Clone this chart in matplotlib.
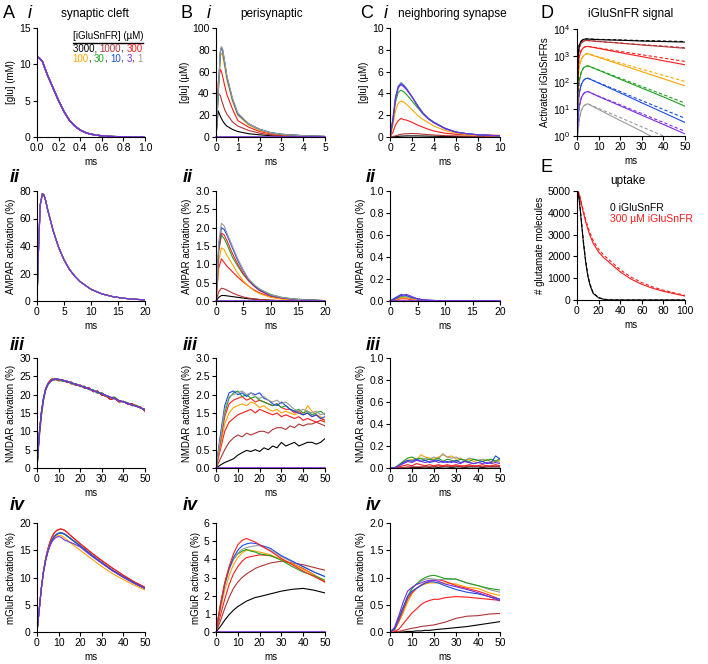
import numpy as np
import matplotlib.pyplot as plt

plt.rcParams['font.family'] = ['Liberation Sans', 'DejaVu Sans']
plt.rcParams['mathtext.fontset'] = 'custom'
plt.rcParams['mathtext.rm'] = 'Liberation Sans'
plt.rcParams['mathtext.it'] = 'Liberation Sans:italic'

# colours per iGluSnFR concentration (uM)
c3000 = 'black'
c1000 = '#b03434'
c300 = '#ff1a1a'
c100 = '#ffa500'
c30 = '#1fa01f'
c10 = '#1a4de6'
c3 = '#7a2ee0'
c1 = '#9a9a9a'

# ---- A: synaptic cleft ----
t_ai = [0, 0, 0.02, 0.05, 0.1, 0.15, 0.2, 0.25, 0.3, 0.35, 0.4, 0.45, 0.5, 0.6, 0.7, 0.8, 1.0]
glu_ai = [0, 11, 10.9, 10.4, 8.4, 6.7, 5.0, 3.5, 2.3, 1.5, 0.95, 0.6, 0.38, 0.15, 0.06, 0.02, 0.0]

t_aii = [0, 0.3, 0.6, 1.0, 1.3, 1.6, 2, 3, 4, 5, 6, 7, 8, 10, 12, 14, 16, 18, 20]
ampa_aii = [0, 40, 70, 78, 77, 73, 66, 51, 39, 30, 23, 18, 14, 8.5, 5.2, 3.2, 2.0, 1.3, 0.8]

t_aiii = [0, 1, 2, 3, 4, 5, 6, 7, 8, 9, 10, 12, 14, 16, 18, 20, 22, 24, 26, 28, 30,
          32, 34, 36, 38, 40, 42, 44, 46, 48, 50]
nmda_aiii_1 = [0, 9, 15, 19, 21.5, 22.8, 23.5, 24.0, 24.2, 24.3, 24.2, 23.9, 23.6, 23.2, 22.8, 22.4,
               22.0, 21.6, 21.1, 20.7, 20.2, 19.8, 19.3, 18.9, 18.4, 18.0, 17.6, 17.2, 16.8, 16.4, 15.9]
nmda_aiii_2 = [0, 9, 15, 19, 21.6, 23.0, 23.8, 24.3, 24.0, 24.4, 23.8, 24.0, 23.3, 23.4, 22.5, 22.6,
               21.8, 21.9, 20.8, 21.0, 19.9, 19.6, 18.7, 19.0, 18.0, 18.2, 17.4, 17.5, 16.9, 16.6, 15.5]
nmda_aiii_3 = [0, 8, 14, 18.5, 21.2, 22.6, 23.4, 23.9, 24.3, 24.0, 24.1, 23.6, 23.7, 22.9, 23.0, 22.2,
               22.3, 21.4, 21.3, 20.4, 20.5, 19.7, 19.2, 19.3, 18.3, 18.1, 17.8, 17.0, 17.1, 16.3, 16.1]

t_aiv = [0, 1, 2, 3, 4, 5, 6, 7, 8, 9, 10, 11, 12, 13, 14, 15, 17, 20, 25, 30, 35, 40, 45, 50]
mglu_aiv_mid = [0, 4, 8, 11, 13.2, 14.8, 16.0, 16.9, 17.5, 17.9, 18.1, 18.2, 18.1, 17.9, 17.6, 17.3,
                16.7, 15.8, 14.2, 12.7, 11.3, 10.1, 9.0, 8.0]
mglu_aiv_hi = [0, 4, 8, 11.2, 13.5, 15.2, 16.5, 17.5, 18.2, 18.6, 18.8, 18.9, 18.8, 18.6, 18.3, 17.9,
               17.2, 16.2, 14.6, 13.1, 11.7, 10.4, 9.2, 8.2]
mglu_aiv_lo = [0, 4, 8, 11, 13.2, 14.8, 16.0, 16.8, 17.3, 17.6, 17.7, 17.7, 17.5, 17.2, 16.9, 16.5,
               15.9, 15.0, 13.5, 12.0, 10.7, 9.6, 8.6, 7.7]
mglu_aiv_pu = [0, 4, 8, 11, 13.1, 14.6, 15.8, 16.6, 17.1, 17.4, 17.5, 17.4, 17.1, 16.8, 16.7, 16.5,
               16.2, 15.6, 14.0, 12.6, 11.2, 10.0, 8.9, 8.0]

# ---- B: perisynaptic ----
t_bi = [0, 0.1, 0.2, 0.25, 0.3, 0.4, 0.5, 0.75, 1.0, 1.5, 2, 2.5, 3, 4, 5]
glu_bi = {
    c3000: [0, 24, 19, 17, 15, 12, 10, 7, 5, 3, 2, 1.2, 0.8, 0.4, 0.2],
    c1000: [0, 40, 38, 34, 31, 25, 21, 14, 10, 6, 3.5, 2, 1.3, 0.6, 0.3],
    c300: [0, 50, 62, 60, 56, 47, 39, 26, 15, 9, 5, 3, 2, 1, 0.5],
    c100: [0, 38, 74, 77, 75, 64, 52, 33, 20, 11, 6, 3.5, 2.2, 1.0, 0.5],
    c30: [0, 40, 78, 82, 80, 68, 55, 35, 21, 12, 7, 4, 2.5, 1.2, 0.5],
    c10: [0, 40, 78, 82, 80, 68, 55, 35, 21, 12, 7, 4, 2.5, 1.2, 0.5],
    c1: [0, 41, 79, 83, 81, 69, 56, 36, 22, 12, 7, 4, 2.5, 1.2, 0.5],
}

t_bii = [0, 0.5, 1, 1.5, 2, 3, 4, 5, 6, 7, 8, 10, 12, 14, 16, 20]
ampa_bii = {
    c3000: [0, 0.1, 0.15, 0.15, 0.14, 0.12, 0.1, 0.08, 0.06, 0.05, 0.04, 0.02, 0.01, 0.01, 0, 0],
    c1000: [0, 0.25, 0.35, 0.33, 0.3, 0.22, 0.16, 0.11, 0.08, 0.06, 0.04, 0.02, 0.01, 0.01, 0, 0],
    c300: [0, 0.9, 1.15, 1.05, 0.95, 0.8, 0.65, 0.52, 0.4, 0.3, 0.22, 0.12, 0.08, 0.05, 0.03, 0.01],
    c100: [0, 1.1, 1.45, 1.4, 1.25, 1.0, 0.75, 0.55, 0.4, 0.28, 0.2, 0.1, 0.05, 0.03, 0.02, 0.01],
    c30: [0, 1.35, 1.8, 1.7, 1.55, 1.2, 0.95, 0.72, 0.55, 0.42, 0.32, 0.18, 0.1, 0.06, 0.04, 0.01],
    '#ff2020': [0, 1.4, 1.85, 1.8, 1.65, 1.3, 1.0, 0.75, 0.55, 0.4, 0.28, 0.14, 0.08, 0.05, 0.02, 0.01],
    c10: [0, 1.5, 2.0, 1.95, 1.8, 1.45, 1.1, 0.82, 0.58, 0.42, 0.3, 0.15, 0.09, 0.05, 0.03, 0.01],
    c1: [0, 1.6, 2.12, 2.05, 1.85, 1.5, 1.15, 0.85, 0.6, 0.45, 0.33, 0.17, 0.1, 0.06, 0.03, 0.01],
}

t50 = [0, 2, 4, 6, 8, 10, 12, 14, 16, 18, 20, 22, 24, 26, 28, 30, 32, 34, 36, 38, 40, 42, 44, 46, 48, 50]
nmda_biii = {
    c3000: [0, 0.08, 0.15, 0.2, 0.25, 0.35, 0.42, 0.48, 0.45, 0.5, 0.45, 0.55, 0.5, 0.6, 0.55, 0.7,
            0.6, 0.65, 0.7, 0.6, 0.65, 0.7, 0.7, 0.65, 0.7, 0.8],
    c1000: [0, 0.25, 0.5, 0.7, 0.82, 0.9, 0.85, 0.95, 0.9, 0.95, 1.0, 1.0, 0.95, 1.05, 1.1, 1.1,
            1.05, 1.15, 1.1, 1.2, 1.15, 1.2, 1.2, 1.25, 1.2, 1.15],
    c300: [0, 0.5, 1.0, 1.25, 1.35, 1.45, 1.5, 1.55, 1.6, 1.5, 1.6, 1.55, 1.5, 1.45, 1.5, 1.4,
           1.45, 1.4, 1.35, 1.4, 1.3, 1.35, 1.3, 1.25, 1.3, 1.25],
    c100: [0, 0.6, 1.2, 1.5, 1.65, 1.7, 1.75, 1.7, 1.8, 1.75, 1.65, 1.7, 1.6, 1.55, 1.6, 1.5,
           1.55, 1.5, 1.45, 1.5, 1.45, 1.7, 1.55, 1.45, 1.4, 1.3],
    '#ff2020': [0, 0.7, 1.4, 1.75, 1.85, 1.9, 1.95, 1.85, 1.9, 1.8, 1.85, 1.8, 1.75, 1.7, 1.75, 1.65,
                1.6, 1.6, 1.5, 1.55, 1.45, 1.5, 1.4, 1.45, 1.35, 1.3],
    c30: [0, 0.8, 1.5, 1.9, 2.05, 2.1, 1.95, 2.0, 1.9, 1.95, 1.85, 1.8, 1.75, 1.7, 1.75, 1.65,
          1.7, 1.6, 1.55, 1.6, 1.5, 1.55, 1.45, 1.5, 1.55, 1.45],
    c10: [0, 0.9, 1.7, 2.05, 2.1, 2.0, 2.05, 1.95, 2.05, 2.0, 2.05, 1.9, 1.85, 1.75, 1.7, 1.8,
          1.7, 1.6, 1.55, 1.5, 1.45, 1.5, 1.4, 1.45, 1.35, 1.4],
    c1: [0, 0.8, 1.6, 1.95, 2.0, 2.05, 2.1, 2.0, 2.05, 1.95, 1.9, 1.95, 1.85, 1.8, 1.85, 1.75,
         1.8, 1.7, 1.6, 1.55, 1.6, 1.55, 1.5, 1.55, 1.45, 1.5],
}

t_biv = [0, 2, 4, 6, 8, 10, 12, 14, 16, 18, 20, 25, 30, 35, 40, 45, 50]
mglu_biv = {
    c3000: [0, 0.3, 0.65, 0.95, 1.2, 1.4, 1.55, 1.7, 1.8, 1.9, 1.95, 2.1, 2.25, 2.35, 2.4, 2.3, 2.15],
    c1000: [0, 0.6, 1.3, 1.9, 2.4, 2.75, 3.0, 3.2, 3.35, 3.5, 3.6, 3.8, 3.9, 3.8, 3.7, 3.55, 3.4],
    c300: [0, 0.9, 1.8, 2.6, 3.2, 3.6, 3.9, 4.1, 4.15, 4.2, 4.25, 4.2, 4.0, 3.75, 3.5, 3.15, 2.75],
    c100: [0, 1.2, 2.3, 3.1, 3.7, 4.1, 4.35, 4.5, 4.5, 4.45, 4.4, 4.25, 4.0, 3.75, 3.45, 3.15, 2.8],
    c30: [0, 1.5, 2.7, 3.5, 4.0, 4.3, 4.45, 4.55, 4.45, 4.4, 4.3, 4.2, 3.95, 3.6, 3.3, 3.1, 2.85],
    c1: [0, 1.4, 2.6, 3.4, 4.0, 4.35, 4.55, 4.65, 4.7, 4.75, 4.75, 4.5, 4.15, 3.85, 3.6, 3.3, 3.05],
    c10: [0, 1.4, 2.6, 3.5, 4.1, 4.5, 4.75, 4.85, 4.9, 4.88, 4.8, 4.6, 4.2, 3.9, 3.6, 3.3, 3.05],
    '#ff2020': [0, 1.5, 2.7, 3.6, 4.3, 4.8, 5.05, 5.15, 5.05, 4.95, 4.8, 4.45, 4.05, 3.7, 3.35, 3.05, 2.75],
}

# ---- C: neighboring synapse ----
t_ci = [0, 0.25, 0.5, 0.75, 1.0, 1.25, 1.5, 2, 2.5, 3, 3.5, 4, 5, 6, 7, 8, 10]
glu_ci = {
    c3000: [0, 0.02, 0.04, 0.06, 0.08, 0.09, 0.1, 0.1, 0.1, 0.09, 0.08, 0.07, 0.05, 0.04, 0.03, 0.02, 0.01],
    c1000: [0, 0.05, 0.1, 0.18, 0.25, 0.28, 0.3, 0.32, 0.3, 0.26, 0.22, 0.18, 0.12, 0.1, 0.08, 0.06, 0.03],
    c300: [0, 0.4, 1.1, 1.5, 1.7, 1.6, 1.55, 1.35, 1.1, 0.9, 0.7, 0.55, 0.35, 0.25, 0.2, 0.2, 0.15],
    c100: [0, 1.0, 2.4, 3.1, 3.3, 3.2, 3.0, 2.5, 2.0, 1.6, 1.3, 1.0, 0.6, 0.35, 0.2, 0.15, 0.1],
    c30: [0, 1.3, 3.2, 4.1, 4.3, 4.15, 3.9, 3.3, 2.7, 2.1, 1.65, 1.3, 0.8, 0.45, 0.3, 0.2, 0.1],
    c1: [0, 1.6, 3.7, 4.7, 5.0, 4.8, 4.5, 3.7, 2.9, 2.2, 1.7, 1.35, 0.8, 0.45, 0.3, 0.2, 0.1],
    c10: [0, 1.5, 3.6, 4.6, 4.9, 4.7, 4.4, 3.7, 2.9, 2.2, 1.7, 1.35, 0.8, 0.45, 0.3, 0.2, 0.1],
    c3: [0, 1.5, 3.5, 4.5, 4.8, 4.6, 4.35, 3.65, 2.85, 2.15, 1.65, 1.3, 0.75, 0.45, 0.3, 0.2, 0.1],
}

t_cii = [0, 1, 2, 3, 4, 5, 6, 8, 10, 15, 20]
ampa_cii = {
    c300: [0, 0.01, 0.02, 0.02, 0.01, 0.01, 0, 0, 0, 0, 0],
    c100: [0, 0.01, 0.03, 0.03, 0.02, 0.01, 0, 0, 0, 0, 0],
    c30: [0, 0.02, 0.04, 0.04, 0.03, 0.02, 0.01, 0, 0, 0, 0],
    c1: [0, 0.03, 0.05, 0.04, 0.03, 0.015, 0.01, 0, 0, 0, 0],
    c10: [0, 0.03, 0.06, 0.05, 0.03, 0.02, 0.01, 0.005, 0, 0, 0],
    c3: [0, 0.02, 0.05, 0.06, 0.04, 0.02, 0.01, 0.005, 0, 0, 0],
}

nmda_ciii = {
    c3000: [0, 0, 0, 0, 0, 0.005, 0.005, 0.005, 0.01, 0.005, 0.01, 0.005, 0.01, 0.01, 0.005, 0.01,
            0.01, 0.005, 0.01, 0.01, 0.01, 0.005, 0.01, 0.01, 0.01, 0.01],
    c1000: [0, 0, 0, 0.005, 0.01, 0.01, 0.01, 0.01, 0.01, 0.01, 0.01, 0.02, 0.01, 0.02, 0.01, 0.02,
            0.01, 0.01, 0.02, 0.01, 0.02, 0.01, 0.02, 0.01, 0.02, 0.01],
    c300: [0, 0, 0.01, 0.02, 0.03, 0.02, 0.04, 0.03, 0.02, 0.03, 0.02, 0.03, 0.02, 0.03, 0.02, 0.03,
           0.02, 0.02, 0.03, 0.02, 0.02, 0.03, 0.02, 0.02, 0.03, 0.02],
    c100: [0, 0, 0.02, 0.05, 0.07, 0.08, 0.07, 0.12, 0.1, 0.09, 0.08, 0.1, 0.12, 0.1, 0.11, 0.08,
           0.09, 0.07, 0.08, 0.06, 0.07, 0.06, 0.08, 0.05, 0.06, 0.07],
    c1: [0, 0, 0.02, 0.04, 0.06, 0.07, 0.08, 0.07, 0.09, 0.08, 0.1, 0.08, 0.13, 0.1, 0.09, 0.1,
         0.08, 0.07, 0.09, 0.08, 0.07, 0.08, 0.07, 0.06, 0.07, 0.05],
    c30: [0, 0, 0.03, 0.06, 0.09, 0.1, 0.08, 0.09, 0.07, 0.08, 0.07, 0.09, 0.06, 0.08, 0.07, 0.06,
          0.08, 0.07, 0.06, 0.08, 0.07, 0.06, 0.07, 0.08, 0.06, 0.09],
    c10: [0, 0, 0.02, 0.05, 0.07, 0.06, 0.08, 0.06, 0.07, 0.05, 0.06, 0.07, 0.05, 0.06, 0.05, 0.07,
          0.05, 0.06, 0.05, 0.04, 0.05, 0.06, 0.04, 0.05, 0.11, 0.08],
    c3: [0, 0, 0.02, 0.04, 0.06, 0.05, 0.07, 0.06, 0.05, 0.06, 0.07, 0.05, 0.06, 0.05, 0.06, 0.05,
         0.04, 0.06, 0.05, 0.04, 0.05, 0.04, 0.05, 0.04, 0.05, 0.04],
}

t_civ = [0, 2, 4, 6, 8, 10, 12, 14, 16, 18, 20, 22, 25, 30, 35, 40, 45, 50]
mglu_civ = {
    c3000: [0, 0, 0, 0, 0.01, 0.01, 0.02, 0.02, 0.03, 0.03, 0.04, 0.05, 0.06, 0.08, 0.1, 0.13, 0.16, 0.19],
    c1000: [0, 0, 0.01, 0.03, 0.05, 0.07, 0.08, 0.1, 0.11, 0.12, 0.13, 0.15, 0.18, 0.25, 0.29, 0.3, 0.33, 0.34],
    c300: [0, 0.01, 0.05, 0.15, 0.25, 0.35, 0.42, 0.5, 0.55, 0.58, 0.6, 0.6, 0.63, 0.65, 0.64, 0.62, 0.6, 0.58],
    c100: [0, 0.03, 0.18, 0.35, 0.55, 0.7, 0.8, 0.85, 0.88, 0.9, 0.9, 0.9, 0.9, 0.88, 0.82, 0.8, 0.72, 0.67],
    '#ff2020': [0, 0.04, 0.2, 0.4, 0.6, 0.72, 0.8, 0.86, 0.9, 0.93, 0.95, 0.96, 0.93, 0.85, 0.8, 0.75, 0.68, 0.6],
    c1: [0, 0.05, 0.25, 0.45, 0.65, 0.8, 0.88, 0.93, 0.97, 0.98, 0.97, 0.96, 0.97, 0.97, 0.9, 0.85, 0.78, 0.73],
    c30: [0, 0.05, 0.25, 0.45, 0.65, 0.8, 0.88, 0.95, 1.0, 1.03, 1.04, 1.02, 0.98, 0.97, 0.9, 0.85, 0.8, 0.77],
    c10: [0, 0.05, 0.25, 0.45, 0.65, 0.75, 0.8, 0.85, 0.9, 0.92, 0.92, 0.9, 0.85, 0.78, 0.73, 0.7, 0.65, 0.6],
    c3: [0, 0.08, 0.3, 0.55, 0.75, 0.82, 0.87, 0.9, 0.93, 0.95, 0.95, 0.93, 0.88, 0.83, 0.78, 0.72, 0.65, 0.57],
}

# ---- D: iGluSnFR signal (solid, dashed) ----
t_d = [0, 0.5, 1, 2, 3, 4, 5, 10, 20, 30, 40, 50]
sig_d = {
    c3000: ([1, 900, 2500, 3600, 4100, 4200, 4200, 4000, 3800, 3550, 3400, 3250],
            [1, 900, 2500, 3600, 4100, 4250, 4250, 4100, 3900, 3700, 3550, 3400]),
    c1000: ([1, 700, 2000, 3000, 3500, 3700, 3700, 3400, 2950, 2530, 2200, 1900],
            [1, 700, 2000, 3000, 3500, 3700, 3700, 3450, 3000, 2600, 2300, 2000]),
    c300: ([1, 300, 900, 1600, 2000, 2200, 2240, 1880, 1310, 930, 650, 460],
           [1, 300, 900, 1600, 2000, 2200, 2240, 1950, 1450, 1090, 820, 615]),
    c100: ([1, 120, 380, 750, 1000, 1150, 1190, 870, 470, 255, 138, 75],
           [1, 120, 380, 750, 1000, 1150, 1190, 910, 540, 315, 185, 110]),
    c30: ([1, 35, 110, 250, 350, 400, 420, 290, 133, 62, 29, 13],
          [1, 35, 110, 250, 350, 400, 420, 295, 145, 71, 35, 17]),
    c10: ([1, 12, 38, 85, 120, 140, 145, 95, 41, 17.4, 7.5, 3.2],
          [1, 12, 38, 85, 120, 140, 145, 98, 46, 21, 9.8, 4.6]),
    c3: ([0.5, 4, 12, 27, 38, 44, 46, 30, 13.5, 6, 2.7, 1.2],
         [0.5, 4, 12, 27, 38, 44, 46, 31, 14.6, 6.9, 3.2, 1.5]),
    c1: ([0.5, 1.5, 4, 9, 13, 15, 16, 9.8, 3.8, 1.5, 0.55, 0.2],
         [0.5, 1.5, 4, 9, 13, 15, 16, 10.7, 4.9, 2.2, 1.0, 0.45]),
}

# ---- E: uptake ----
t_e = [0, 1, 2, 3, 4, 5, 6, 8, 10, 12, 15, 20, 25, 30, 40, 50, 60, 70, 80, 90, 100]
uptake_0 = [5000, 4900, 4600, 4130, 3600, 3100, 2600, 1750, 1100, 690, 300, 100, 30, 5, 0, 0, 0, 0, 0, 0, 0]
uptake_0_d = [5000, 4920, 4650, 4200, 3680, 3180, 2680, 1820, 1160, 730, 330, 110, 35, 8, 0, 0, 0, 0, 0, 0, 0]
uptake_300 = [5000, 4980, 4850, 4650, 4420, 4200, 3990, 3600, 3260, 2960, 2600, 2200, 1930, 1720, 1290,
              960, 720, 540, 400, 290, 180]
uptake_300_d = [5000, 4985, 4870, 4690, 4480, 4280, 4080, 3700, 3370, 3080, 2720, 2330, 2050, 1830, 1390,
                1050, 800, 600, 450, 330, 210]

W, H = 708, 664
fig = plt.figure(figsize=(W / 100, H / 100), dpi=100)
LW = 0.8


def make_ax(l, t, r, b, xlim, xticks, ylim, yticks, ylabel, log=False):
    ax = fig.add_axes([l / W, 1 - b / H, (r - l) / W, (b - t) / H])
    for s in ['top', 'right']:
        ax.spines[s].set_visible(False)
    for s in ['left', 'bottom']:
        ax.spines[s].set_linewidth(0.8)
    if log:
        ax.set_yscale('log')
        ax.minorticks_off()
    ax.set_xlim(xlim)
    ax.set_ylim(ylim)
    ax.set_xticks(xticks)
    ax.set_yticks(yticks)
    ax.tick_params(direction='out', length=3, width=0.8, labelsize=7.5, pad=1.5)
    ax.set_xlabel('ms', fontsize=7, labelpad=3)
    ax.set_ylabel(ylabel, fontsize=7, labelpad=2)
    return ax


def ftext(x, y, s, **kw):
    fig.text(x / W, 1 - y / H, s, **kw)


def draw(ax, t, series):
    for col, vals in series.items():
        ax.plot(t, vals, color=col, lw=LW)


rows = {'i': (28, 137), 'ii': (191, 301), 'iii': (358, 468), 'iv': (523, 632)}
order_all = [c3000, c1000, c300, c100, c30, c10, c1, c3]

# A i
ax = make_ax(37, rows['i'][0], 145, rows['i'][1], (0, 1), np.arange(0, 1.01, 0.2),
             (0, 15), [0, 5, 10, 15], '[glu] (mM)')
for c in order_all:
    ax.plot(t_ai, glu_ai, color=c, lw=1.0)
ax.set_xticklabels(['0.0', '0.2', '0.4', '0.6', '0.8', '1.0'])
ax.text(0.33, 0.975, '[iGluSnFR] (\u00b5M)', transform=ax.transAxes, fontsize=7, va='top')
ax.plot([0.33, 0.985], [0.865, 0.865], transform=ax.transAxes, color='black', lw=1.0, clip_on=False)
for y, pieces in [(0.855, [('3000, ', c3000), ('1000', c1000), (', ', 'black'), ('300', c300)]),
                  (0.765, [('100', c100), (', ', 'black'), ('30', c30), (', ', 'black'), ('10', c10),
                           (', ', 'black'), ('3', c3), (', ', 'black'), ('1', c1)])]:
    prev = ax.text(0.33, y, pieces[0][0], color=pieces[0][1], transform=ax.transAxes, fontsize=7, va='top')
    for s, c in pieces[1:]:
        prev = ax.annotate(s, xy=(1, 0), xycoords=prev, va='bottom', ha='left', color=c, fontsize=7)

# A ii
ax = make_ax(37, rows['ii'][0], 145, rows['ii'][1], (0, 20), [0, 5, 10, 15, 20], (0, 80),
             [0, 20, 40, 60, 80], 'AMPAR activation (%)')
for c in order_all:
    ax.plot(t_aii, ampa_aii, color=c, lw=LW)

# A iii
ax = make_ax(37, rows['iii'][0], 145, rows['iii'][1], (0, 50), np.arange(0, 51, 10), (0, 30),
             np.arange(0, 31, 5), 'NMDAR activation (%)')
for c, v in [(c1, nmda_aiii_1), (c3000, nmda_aiii_2), (c1000, nmda_aiii_3), (c300, nmda_aiii_2),
             (c100, nmda_aiii_1), (c30, nmda_aiii_3), (c10, nmda_aiii_1), (c3, nmda_aiii_1)]:
    ax.plot(t_aiii, v, color=c, lw=LW)

# A iv
ax = make_ax(37, rows['iv'][0], 145, rows['iv'][1], (0, 50), np.arange(0, 51, 10), (0, 20),
             np.arange(0, 21, 5), 'mGluR activation (%)')
for c, v in [(c3000, mglu_aiv_mid), (c1, mglu_aiv_mid), (c1000, mglu_aiv_hi), (c300, mglu_aiv_hi),
             (c30, mglu_aiv_mid), (c100, mglu_aiv_lo), (c10, mglu_aiv_mid), (c3, mglu_aiv_pu)]:
    ax.plot(t_aiv, v, color=c, lw=LW)

# B
ax = make_ax(216, rows['i'][0], 325, rows['i'][1], (0, 5), np.arange(0, 6), (0, 100),
             np.arange(0, 101, 20), '[glu] (\u00b5M)')
draw(ax, t_bi, glu_bi)
ax.plot([0, 5], [0, 0], color=c3, lw=1.2, clip_on=False)

ax = make_ax(216, rows['ii'][0], 325, rows['ii'][1], (0, 20), [0, 5, 10, 15, 20], (0, 3),
             np.arange(0, 3.01, 0.5), 'AMPAR activation (%)')
draw(ax, t_bii, ampa_bii)
ax.plot([0, 20], [0, 0], color=c3, lw=1.2, clip_on=False)

ax = make_ax(216, rows['iii'][0], 325, rows['iii'][1], (0, 50), np.arange(0, 51, 10), (0, 3),
             np.arange(0, 3.01, 0.5), 'NMDAR activation (%)')
draw(ax, t50, nmda_biii)
ax.plot([0, 50], [0, 0], color=c3, lw=1.2, clip_on=False)

ax = make_ax(216, rows['iv'][0], 325, rows['iv'][1], (0, 50), np.arange(0, 51, 10), (0, 6),
             np.arange(0, 7), 'mGluR activation (%)')
draw(ax, t_biv, mglu_biv)
ax.plot([0, 50], [0, 0], color=c3, lw=1.2, clip_on=False)

# C
ax = make_ax(390, rows['i'][0], 500, rows['i'][1], (0, 10), np.arange(0, 11, 2), (0, 10),
             np.arange(0, 11, 2), '[glu] (\u00b5M)')
draw(ax, t_ci, glu_ci)

ax = make_ax(390, rows['ii'][0], 500, rows['ii'][1], (0, 20), [0, 5, 10, 15, 20], (0, 1),
             np.arange(0, 1.01, 0.2), 'AMPAR activation (%)')
draw(ax, t_cii, ampa_cii)
ax.plot([0, 20], [0, 0], color=c3, lw=1.2, clip_on=False)

ax = make_ax(390, rows['iii'][0], 500, rows['iii'][1], (0, 50), np.arange(0, 51, 10), (0, 1),
             np.arange(0, 1.01, 0.2), 'NMDAR activation (%)')
draw(ax, t50, nmda_ciii)

ax = make_ax(390, rows['iv'][0], 500, rows['iv'][1], (0, 50), np.arange(0, 51, 10), (0, 2),
             np.arange(0, 2.01, 0.5), 'mGluR activation (%)')
draw(ax, t_civ, mglu_civ)

# D
ax = make_ax(577, 29, 685, 136, (0, 50), np.arange(0, 51, 10), (1, 1e4),
             [1, 10, 100, 1000, 10000], 'Activated iGluSnFRs', log=True)
for c in [c1, c3, c10, c30, c100, c300, c1000, c3000]:
    solid, dashed = sig_d[c]
    ax.plot(t_d, solid, color=c, lw=LW)
    ax.plot(t_d, dashed, color=c, lw=LW, ls=(0, (3, 2)))

# E
ax = make_ax(577, 191, 685, 300, (0, 100), np.arange(0, 101, 20), (0, 5000),
             np.arange(0, 5001, 1000), '# glutamate molecules')
ax.plot(t_e, uptake_300, color=c300, lw=LW)
ax.plot(t_e, uptake_300_d, color=c300, lw=LW, ls=(0, (3, 2)))
ax.plot(t_e, uptake_0, color='black', lw=LW)
ax.plot(t_e, uptake_0_d, color='black', lw=LW, ls=(0, (3, 2)))
ftext(610, 208, '0 iGluSnFR', fontsize=7.5, va='center')
ftext(610, 219, '300 \u00b5M iGluSnFR', fontsize=7.5, va='center', color=c300)

# panel letters, titles
for letter, x in [('A', 3), ('B', 180), ('C', 360), ('D', 540)]:
    ftext(x, 13, letter, fontsize=13, va='center')
for x in [28, 207, 384]:
    ftext(x, 13, 'i', fontsize=13, style='italic', va='center')
ftext(540, 168, 'E', fontsize=13, va='center')
for x, s in [(95, 'synaptic cleft'), (272, 'perisynaptic'), (452, 'neighboring synapse'),
             (631, 'iGluSnFR signal')]:
    ftext(x, 14, s, fontsize=8.5, ha='center', va='center')
ftext(628, 181, 'uptake', fontsize=8.5, ha='center', va='center')
for y, s in [(177, 'ii'), (345, 'iii'), (506, 'iv')]:
    for x in [10, 183, 366]:
        ftext(x, y, s, fontsize=13, style='italic', weight='bold', va='center')

fig.savefig('out.png', dpi=100)
